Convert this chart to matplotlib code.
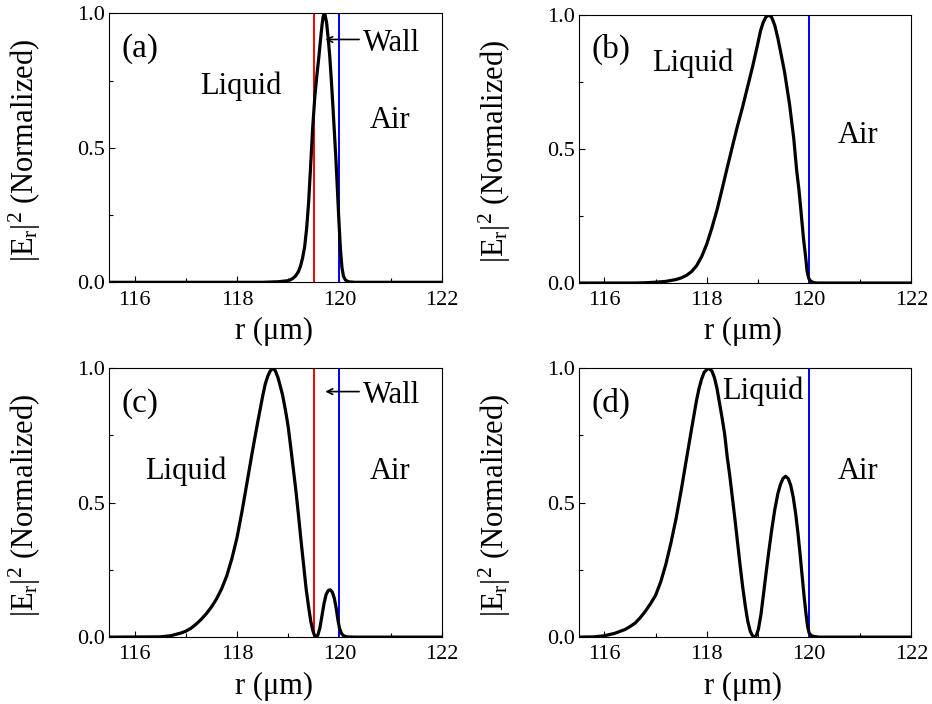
import matplotlib
matplotlib.use('Agg')
import matplotlib.pyplot as plt
from matplotlib.ticker import MultipleLocator, FormatStrFormatter

plt.rcParams['font.family'] = ['Liberation Serif', 'DejaVu Serif']
plt.rcParams['mathtext.fontset'] = 'custom'
plt.rcParams['mathtext.rm'] = 'Liberation Serif'
plt.rcParams['mathtext.it'] = 'Liberation Serif:italic'

# perfis: r (um) e |Er|^2 normalizado
r_a = [115.5, 118.5, 118.8, 119.0, 119.05, 119.1, 119.15, 119.2, 119.24, 119.28, 119.32,
       119.36, 119.4, 119.44, 119.48, 119.52, 119.56, 119.6, 119.63, 119.66, 119.68,
       119.7, 119.72, 119.75, 119.78, 119.81, 119.84, 119.87, 119.9, 119.93, 119.96,
       119.99, 120.02, 120.05, 120.08, 120.12, 120.18, 120.3, 122.0]
v_a = [0, 0, 0.002, 0.006, 0.01, 0.016, 0.025, 0.04, 0.06, 0.09, 0.13,
       0.2, 0.3, 0.44, 0.58, 0.69, 0.77, 0.84, 0.9, 0.955, 0.985,
       1.0, 0.995, 0.965, 0.91, 0.845, 0.76, 0.665, 0.565, 0.465, 0.35,
       0.23, 0.125, 0.055, 0.022, 0.008, 0.002, 0, 0]

r_b = [115.5, 116.6, 116.8, 117.0, 117.2, 117.4, 117.5, 117.6, 117.7, 117.8, 117.9,
       118.0, 118.1, 118.2, 118.3, 118.4, 118.5, 118.6, 118.7, 118.8, 118.9,
       119.0, 119.05, 119.1, 119.15, 119.21, 119.27, 119.33, 119.39, 119.45, 119.52,
       119.57, 119.62, 119.66, 119.70, 119.73, 119.76, 119.8, 119.83, 119.86, 119.89,
       119.93, 119.96, 119.99, 120.03, 120.08, 120.15, 122.0]
v_b = [0, 0, 0.001, 0.003, 0.006, 0.013, 0.019, 0.028, 0.042, 0.064, 0.098,
       0.145, 0.205, 0.272, 0.35, 0.43, 0.508, 0.585, 0.656, 0.733, 0.81,
       0.895, 0.94, 0.97, 0.99, 1.0, 0.99, 0.96, 0.912, 0.855, 0.787,
       0.725, 0.663, 0.6, 0.539, 0.475, 0.414, 0.35, 0.29, 0.228, 0.166,
       0.1, 0.045, 0.018, 0.007, 0.002, 0, 0]

r_c = [115.5, 116.5, 116.7, 116.9, 117.0, 117.1, 117.2, 117.3, 117.4, 117.5, 117.6,
       117.7, 117.8, 117.9, 118.0, 118.1, 118.2, 118.3, 118.4, 118.5, 118.55,
       118.6, 118.65, 118.7, 118.75, 118.8, 118.85, 118.89, 118.95, 119.0, 119.05,
       119.1, 119.15, 119.2, 119.25, 119.3, 119.35, 119.4, 119.44, 119.48, 119.51,
       119.55, 119.58, 119.62, 119.66, 119.7, 119.74, 119.78, 119.82, 119.86, 119.9,
       119.94, 119.97, 120.0, 120.04, 120.08, 120.15, 120.3, 122.0]
v_c = [0, 0.001, 0.005, 0.015, 0.022, 0.033, 0.048, 0.066, 0.087, 0.112, 0.142,
       0.18, 0.228, 0.292, 0.37, 0.47, 0.58, 0.69, 0.795, 0.895, 0.94,
       0.97, 0.99, 1.0, 0.99, 0.965, 0.93, 0.9, 0.84, 0.782, 0.705,
       0.625, 0.545, 0.455, 0.36, 0.27, 0.18, 0.11, 0.06, 0.025, 0.008,
       0.0, 0.008, 0.035, 0.08, 0.125, 0.158, 0.173, 0.176, 0.168, 0.145,
       0.105, 0.065, 0.035, 0.014, 0.005, 0.001, 0, 0]

r_d = [115.5, 115.8, 116.0, 116.2, 116.4, 116.5, 116.6, 116.7, 116.8, 116.9, 117.0,
       117.1, 117.2, 117.3, 117.4, 117.5, 117.6, 117.7, 117.8, 117.85, 117.9,
       117.95, 118.03, 118.1, 118.15, 118.2, 118.25, 118.3, 118.35, 118.4, 118.45,
       118.5, 118.55, 118.6, 118.65, 118.7, 118.75, 118.8, 118.85, 118.89, 118.93,
       118.97, 119.01, 119.06, 119.11, 119.16, 119.21, 119.27, 119.33, 119.39, 119.44,
       119.49, 119.54, 119.59, 119.64, 119.69, 119.74, 119.78, 119.82, 119.86, 119.9,
       119.94, 119.97, 120.0, 120.04, 120.1, 120.2, 122.0]
v_d = [0, 0.001, 0.005, 0.014, 0.028, 0.039, 0.052, 0.072, 0.096, 0.124, 0.155,
       0.205, 0.27, 0.35, 0.44, 0.545, 0.658, 0.77, 0.88, 0.925, 0.96,
       0.985, 1.0, 0.99, 0.965, 0.925, 0.87, 0.815, 0.755, 0.67, 0.6,
       0.52, 0.44, 0.355, 0.27, 0.19, 0.12, 0.06, 0.022, 0.006, 0.0,
       0.007, 0.03, 0.085, 0.162, 0.24, 0.315, 0.4, 0.475, 0.534, 0.568,
       0.59, 0.598, 0.59, 0.565, 0.52, 0.455, 0.39, 0.315, 0.235, 0.155,
       0.085, 0.04, 0.015, 0.006, 0.002, 0, 0]

# interfaces liquido/parede (vermelho) e parede/ar (azul)
parede_interna = 119.5
parede_externa = 120.0

fig = plt.figure(figsize=(9.32, 7.04), dpi=100)

posicoes = {
    'a': [0.117, 0.599, 0.357, 0.382],
    'b': [0.621, 0.598, 0.357, 0.381],
    'c': [0.117, 0.095, 0.357, 0.382],
    'd': [0.621, 0.095, 0.357, 0.382],
}
dados = {'a': (r_a, v_a), 'b': (r_b, v_b), 'c': (r_c, v_c), 'd': (r_d, v_d)}

eixos = {}
for nome in ['a', 'b', 'c', 'd']:
    ax = fig.add_axes(posicoes[nome])
    r, v = dados[nome]
    ax.plot(r, v, color='black', lw=2.3, solid_joinstyle='round', zorder=3)

    if nome in ('a', 'c'):
        ax.axvline(parede_interna, color='#ff0000', lw=1.4, zorder=2)
    ax.axvline(parede_externa, color='#0000ff', lw=1.4, zorder=2)

    ax.set_xlim(115.5, 122)
    ax.set_ylim(0, 1.0)
    ax.xaxis.set_major_locator(MultipleLocator(2))
    ax.xaxis.set_minor_locator(MultipleLocator(1))
    ax.yaxis.set_major_locator(MultipleLocator(0.5))
    ax.yaxis.set_minor_locator(MultipleLocator(0.25))
    ax.yaxis.set_major_formatter(FormatStrFormatter('%.1f'))
    ax.tick_params(which='both', direction='in', top=False, right=False, width=0.8)
    ax.tick_params(which='major', length=4, labelsize=16)
    ax.tick_params(axis='x', which='major', pad=6)
    ax.tick_params(axis='y', which='major', pad=3)
    ax.tick_params(which='minor', length=3)
    for s in ax.spines.values():
        s.set_linewidth(0.8)

    ax.set_xlabel('r (μm)', fontsize=22)
    ax.xaxis.set_label_coords(0.495, -0.128)
    ax.set_ylabel(r'$|\mathrm{E}_\mathrm{r}|^2$ (Normalized)', fontsize=22)
    ax.yaxis.set_label_coords(-0.198, 0.49)

    ax.text(115.75, 0.87, '(' + nome + ')', fontsize=24, va='center', ha='left')
    eixos[nome] = ax

fs = 22
eixos['a'].text(117.27, 0.70, 'Liquid', fontsize=fs)
eixos['a'].text(120.59, 0.572, 'Air', fontsize=fs)
eixos['a'].text(120.46, 0.86, 'Wall', fontsize=fs)
eixos['a'].annotate('', xy=(119.67, 0.903), xytext=(120.44, 0.903),
                    arrowprops=dict(arrowstyle='->', lw=1.2, color='black'))

eixos['b'].text(116.94, 0.79, 'Liquid', fontsize=fs)
eixos['b'].text(120.55, 0.522, 'Air', fontsize=fs)

eixos['c'].text(116.2, 0.588, 'Liquid', fontsize=fs)
eixos['c'].text(120.59, 0.588, 'Air', fontsize=fs)
eixos['c'].text(120.46, 0.87, 'Wall', fontsize=fs)
eixos['c'].annotate('', xy=(119.67, 0.913), xytext=(120.44, 0.913),
                    arrowprops=dict(arrowstyle='->', lw=1.2, color='black'))

eixos['d'].text(118.30, 0.886, 'Liquid', fontsize=fs)
eixos['d'].text(120.55, 0.588, 'Air', fontsize=fs)

fig.savefig('out.png', dpi=100)
